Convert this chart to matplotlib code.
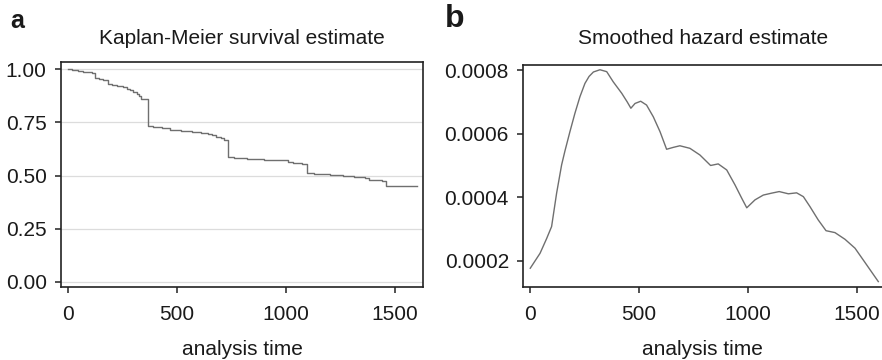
import matplotlib
matplotlib.use("Agg")
import matplotlib.pyplot as plt

plt.rcParams['font.family'] = ['Liberation Sans', 'DejaVu Sans']

# Kaplan-Meier survival estimate (step function)
km_time = [0, 20, 45, 70, 95, 110, 122, 140, 160, 182, 200, 225, 250, 270, 285, 300,
           315, 325, 335, 345, 368, 390, 430, 470, 520, 570, 610, 640, 660, 680, 700,
           715, 732, 760, 820, 900, 990, 1010, 1030, 1050, 1075, 1098, 1130, 1200,
           1260, 1310, 1360, 1380, 1410, 1440, 1458, 1600]
km_surv = [1.0, 0.996, 0.992, 0.989, 0.985, 0.982, 0.958, 0.955, 0.951, 0.931, 0.927,
           0.921, 0.915, 0.908, 0.900, 0.892, 0.882, 0.872, 0.862, 0.858, 0.735, 0.728,
           0.722, 0.716, 0.711, 0.705, 0.700, 0.697, 0.690, 0.683, 0.675, 0.668, 0.585,
           0.581, 0.578, 0.575, 0.572, 0.566, 0.561, 0.557, 0.552, 0.510, 0.506, 0.502,
           0.498, 0.493, 0.487, 0.480, 0.477, 0.473, 0.452, 0.452]

# Smoothed hazard estimate
hz_time = [0, 45, 75, 98, 121, 144, 159, 182, 205, 228, 251, 270, 290, 320, 351, 381,
           420, 445, 462, 481, 507, 534, 565, 596, 626, 657, 687, 733, 779, 828, 863,
           902, 940, 971, 994, 1032, 1070, 1108, 1143, 1185, 1223, 1254, 1284, 1322,
           1358, 1399, 1445, 1491, 1537, 1598]
hz_val = [0.000177, 0.000224, 0.000270, 0.000308, 0.000413, 0.000502, 0.000545,
          0.000606, 0.000664, 0.000716, 0.000758, 0.000780, 0.000794, 0.000801,
          0.000795, 0.000763, 0.000727, 0.000700, 0.000680, 0.000695, 0.000702,
          0.000690, 0.000653, 0.000606, 0.000551, 0.000557, 0.000562, 0.000554,
          0.000533, 0.000500, 0.000505, 0.000486, 0.000439, 0.000397, 0.000367,
          0.000392, 0.000407, 0.000413, 0.000418, 0.000411, 0.000414, 0.000402,
          0.000371, 0.000329, 0.000295, 0.000289, 0.000268, 0.000240, 0.000195,
          0.000135]

km_yticks = [0.0, 0.25, 0.5, 0.75, 1.0]
km_yticklabels = ['0.00', '0.25', '0.50', '0.75', '1.00']
hz_yticks = [0.0002, 0.0004, 0.0006, 0.0008]
hz_yticklabels = ['0.0002', '0.0004', '0.0006', '0.0008']
xticks = [0, 500, 1000, 1500]

line_color = '#6f6f6f'
spine_color = '#222222'
text_color = '#1a1a1a'
fs_tick = 15
fs_title = 15

fig = plt.figure(figsize=(8.82, 3.6), dpi=100)
ax1 = fig.add_axes([0.0692, 0.2028, 0.4104, 0.625])
ax2 = fig.add_axes([0.5933, 0.2028, 0.4067, 0.6167])

for ax in (ax1, ax2):
    for s in ax.spines.values():
        s.set_color(spine_color)
        s.set_linewidth(1.2)
    ax.tick_params(axis='both', direction='out', length=4.3, width=1.1,
                   color=spine_color, labelsize=fs_tick, labelcolor=text_color)
    ax.tick_params(axis='x', pad=8.5)
    ax.tick_params(axis='y', pad=6)
    ax.set_xticks(xticks)
    ax.set_xlabel('analysis time', fontsize=fs_title, color=text_color, labelpad=12)

ax1.step(km_time, km_surv, where='post', color=line_color, lw=1.0)
ax1.set_xlim(-32, 1628)
ax1.set_ylim(-0.024, 1.034)
ax1.set_yticks(km_yticks)
ax1.set_yticklabels(km_yticklabels)
ax1.yaxis.grid(True, color='#dcdcdc', lw=0.9)
ax1.set_axisbelow(True)
ax1.set_title('Kaplan-Meier survival estimate', fontsize=fs_title, color=text_color, pad=13)

ax2.plot(hz_time, hz_val, color=line_color, lw=1.0)
ax2.set_xlim(-32, 1615)
ax2.set_ylim(0.000118, 0.000816)
ax2.set_yticks(hz_yticks)
ax2.set_yticklabels(hz_yticklabels)
ax2.spines['right'].set_visible(False)
ax2.set_title('Smoothed hazard estimate', fontsize=fs_title, color=text_color, pad=15)

fig.text(0.0113, 0.922, 'a', fontsize=18, fontweight='bold', color=text_color, va='baseline')
fig.text(0.5045, 0.926, 'b', fontsize=23, fontweight='bold', color=text_color, va='baseline')

fig.savefig('out.png', dpi=100)
